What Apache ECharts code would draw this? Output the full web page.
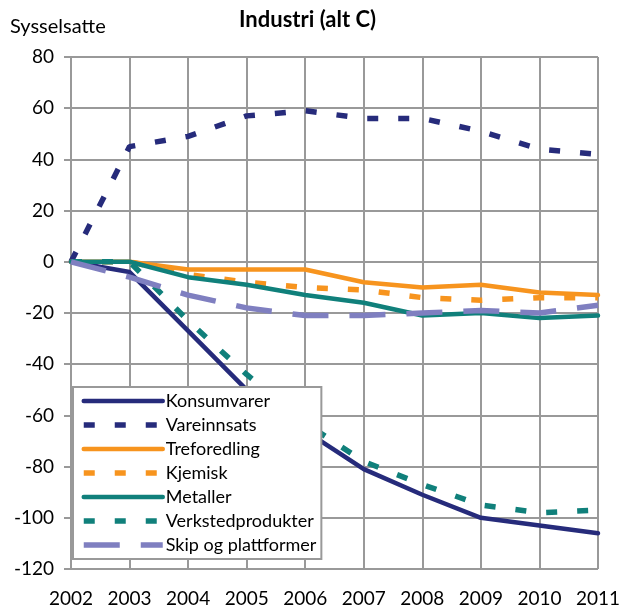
<!DOCTYPE html>
<html>
<head>
<meta charset="utf-8">
<script src="https://cdn.jsdelivr.net/npm/echarts@6/dist/echarts.min.js"></script>
<style>
html,body{margin:0;padding:0;background:#fff;}
#chart{width:627px;height:615px;}
</style>
</head>
<body>
<div id="chart"></div>
<script>
const years = ['2002','2003','2004','2005','2006','2007','2008','2009','2010','2011'];
const konsumvarer = [0,-4,-27,-50,-66,-81,-91,-100,-103,-106];
const vareinnsats = [0,45,49,57,59,56,56,51,44,42];
const treforedling = [0,0,-3,-3,-3,-8,-10,-9,-12,-13];
const kjemisk = [0,0,-5,-8,-10,-11,-14,-15,-14,-14];
const metaller = [0,0,-6,-9,-13,-16,-21,-20,-22,-21];
const verkstedprodukter = [0,0,-23,-44,-63,-78,-87,-95,-98,-97];
const skip = [0,-6,-13,-18,-21,-21,-20,-19,-20,-17];

const NAVY = '#262B7B', ORANGE = '#F7941E', TEAL = '#10807B', LAV = '#7F7FC0';
const FONT = 'Lato';

function mk(name, data, color, type, width, cap) {
  return {
    name: name, type: 'line', data: data, symbol: 'none', smooth: false,
    lineStyle: { color: color, width: width, type: type, cap: cap },
    itemStyle: { color: color },
    emphasis: { disabled: true }, animation: false
  };
}

const chart = echarts.init(document.getElementById('chart'), null, { renderer: 'canvas' });
chart.setOption({
  animation: false,
  backgroundColor: '#fff',
  title: [
    { text: 'Industri (alt C)', left: 239, top: 9, padding: 0,
      textStyle: { fontFamily: FONT, fontWeight: 'bold', fontSize: 22, color: '#000' } },
    { text: 'Sysselsatte', left: 10, top: 17, padding: 0,
      textStyle: { fontFamily: FONT, fontWeight: 'normal', fontSize: 20, color: '#000' } }
  ],
  grid: { left: 71, right: 29, top: 57, bottom: 46, containLabel: false },
  xAxis: {
    type: 'category', data: years, boundaryGap: false,
    axisLine: { show: true, lineStyle: { color: '#999', width: 2 } },
    axisTick: { show: false },
    axisLabel: { margin: 20, fontFamily: FONT, fontSize: 19, color: '#000' },
    splitLine: { show: true, lineStyle: { color: '#999', width: 2 } }
  },
  yAxis: {
    type: 'value', min: -120, max: 80, interval: 20,
    axisLine: { show: true, lineStyle: { color: '#999', width: 2 } },
    axisTick: { show: true, length: 7, lineStyle: { color: '#999', width: 2 } },
    axisLabel: { margin: 17, fontFamily: FONT, fontSize: 19, color: '#000' },
    splitLine: { show: true, lineStyle: { color: '#999', width: 2 } }
  },
  legend: {
    orient: 'vertical', left: 73, top: 387,
    backgroundColor: '#fff', borderColor: '#999', borderWidth: 2, borderRadius: 0,
    padding: [4, 5, 4, 8],
    itemWidth: 79, itemHeight: 20, itemGap: 4,
    itemStyle: { opacity: 0, borderWidth: 0 },
    lineStyle: { width: 'inherit', type: 'inherit', cap: 'inherit' },
    textStyle: { fontFamily: FONT, fontSize: 18, color: '#000', lineHeight: 20, padding: [0,0,0,-2] },
    selectedMode: false
  },
  series: [
    mk('Konsumvarer', konsumvarer, NAVY, 'solid', 4.5, 'round'),
    mk('Vareinnsats', vareinnsats, NAVY, [11, 20], 5.5, 'butt'),
    mk('Treforedling', treforedling, ORANGE, 'solid', 4.5, 'round'),
    mk('Kjemisk', kjemisk, ORANGE, [11, 20], 5.5, 'butt'),
    mk('Metaller', metaller, TEAL, 'solid', 4.5, 'round'),
    mk('Verkstedprodukter', verkstedprodukter, TEAL, [11, 20], 5.5, 'butt'),
    mk('Skip og plattformer', skip, LAV, [36, 21], 5.5, 'butt')
  ]
});
</script>
</body>
</html>
